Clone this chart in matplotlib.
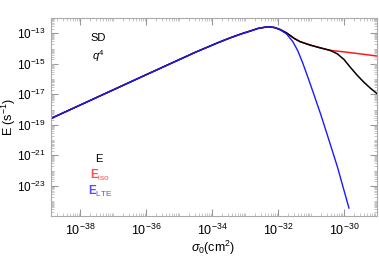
"""
Emission rate vs cross section, SD q^4 (log-log)
"""
import numpy as np
import matplotlib.pyplot as plt
from matplotlib.ticker import LogLocator, FixedLocator, NullFormatter

plt.rcParams.update({'font.family': 'Liberation Sans',
                     'mathtext.fontset': 'custom',
                     'mathtext.rm': 'Liberation Sans',
                     'mathtext.it': 'Liberation Sans:italic',
                     'mathtext.bf': 'Liberation Sans:bold',
                     'font.size': 8})

# log10(sigma_0 / cm^2), log10(E / s^-1)
logsig_lte = [-38.9, -36.0, -34.5, -33.8, -33.45, -33.1, -32.85, -32.6, -32.3, -32.1,
              -31.9, -31.74, -31.55, -31.4, -31.25, -31.1, -30.93, -30.7, -30.5, -30.2, -29.85]
logE_lte = [-18.6, -15.72, -14.24, -13.6, -13.3, -13.03, -12.86, -12.68, -12.57, -12.62,
            -12.82, -13.05, -13.55, -14.15, -14.95, -15.85, -16.9, -18.35, -19.7, -21.75, -24.45]

logsig_tot = [-38.9, -36.0, -34.5, -33.8, -33.45, -33.1, -32.85, -32.6, -32.3, -32.1,
              -31.94, -31.74, -31.5, -31.33, -31.03, -30.73, -30.42, -30.2, -30.0, -29.8,
              -29.6, -29.4, -29.2, -29.0]
logE_tot = [-18.6, -15.72, -14.24, -13.6, -13.3, -13.03, -12.86, -12.68, -12.57, -12.63,
            -12.75, -12.98, -13.35, -13.55, -13.77, -13.95, -14.12, -14.35, -14.72, -15.25,
            -15.75, -16.2, -16.6, -16.95]

logsig_iso = [-38.9, -36.0, -34.5, -33.8, -33.45, -33.1, -32.85, -32.6, -32.3, -32.1,
              -31.94, -31.74, -31.5, -31.33, -31.03, -30.73, -30.42, -30.0, -29.5, -29.0]
logE_iso = [-18.6, -15.72, -14.24, -13.6, -13.3, -13.03, -12.86, -12.68, -12.57, -12.63,
            -12.75, -12.98, -13.35, -13.55, -13.77, -13.95, -14.12, -14.22, -14.35, -14.49]

# labelled ticks
xticks = [1e-38, 1e-36, 1e-34, 1e-32, 1e-30]
yticks = [1e-23, 1e-21, 1e-19, 1e-17, 1e-15, 1e-13]

fig = plt.figure(figsize=(3.79, 2.56), dpi=100)
ax = fig.add_axes([51/379, 1 - 216/256, 326/379, 198/256])

ax.plot(10**np.array(logsig_iso), 10**np.array(logE_iso), color='#ff1a1a', lw=1.1)
ax.plot(10**np.array(logsig_tot), 10**np.array(logE_tot), color='black', lw=1.1)
ax.plot(10**np.array(logsig_lte), 10**np.array(logE_lte), color='#1a1aff', lw=1.0)

ax.set_xscale('log')
ax.set_yscale('log')
ax.set_xlim(10**-38.88, 10**-29.0)
ax.set_ylim(10**-24.97, 1e-12)

# Mathematica-like ticks
ax.xaxis.set_major_locator(FixedLocator(xticks))
ax.yaxis.set_major_locator(FixedLocator(yticks))
ax.xaxis.set_minor_locator(LogLocator(base=10, subs=np.arange(1, 10), numticks=50))
ax.yaxis.set_minor_locator(LogLocator(base=10, subs=np.arange(1, 10), numticks=50))
ax.xaxis.set_minor_formatter(NullFormatter())
ax.yaxis.set_minor_formatter(NullFormatter())
ax.tick_params(which='both', direction='in', top=True, right=True, color='#999999')
ax.tick_params(axis='x', labelsize=9)
ax.tick_params(axis='y', labelsize=8.5)
ax.tick_params(which='major', length=5, width=0.8)
ax.tick_params(which='minor', length=2.5, width=0.6, color='#bbbbbb')
ax.tick_params(axis='x', which='major', pad=5)
for s in ax.spines.values():
    s.set_color('#aaaaaa')
    s.set_linewidth(0.8)

ax.set_xlabel(r'$\sigma_0$(cm$^2$)', fontsize=9, va='center')
ax.xaxis.set_label_coords(0.497, -0.16)
ax.set_ylabel(r'E (s$^{-1}$)', fontsize=9, va='center')
ax.yaxis.set_label_coords(-0.13, 0.5)

# Labels inside the frame
ax.text(0.145, 0.9, 'SD', transform=ax.transAxes, ha='center', va='center', fontsize=8)
ax.text(0.145, 0.81, r'$q^4$', transform=ax.transAxes, ha='center', va='center', fontsize=8)
ax.text(0.148, 0.29, 'E', transform=ax.transAxes, ha='center', va='center', fontsize=8)
ax.text(0.152, 0.205, r'$\mathbf{E}_{\mathrm{iso}}$', transform=ax.transAxes, ha='center',
        va='center', fontsize=8.5, color='#ff5050')
ax.text(0.15, 0.125, r'$\mathbf{E}_{\mathrm{LTE}}$', transform=ax.transAxes, ha='center',
        va='center', fontsize=8.5, color='#5050ff')

fig.savefig('out.png', dpi=100)
